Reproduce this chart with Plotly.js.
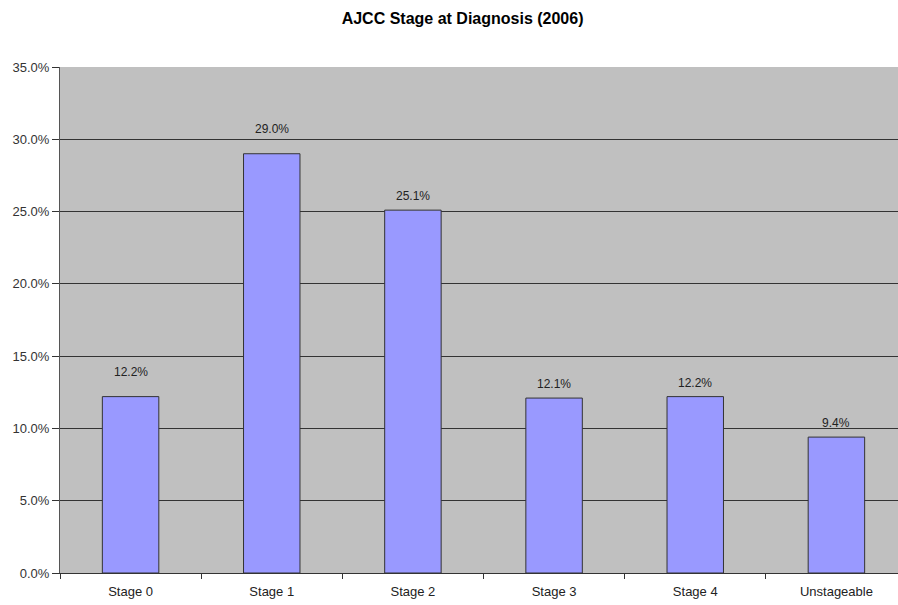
<!DOCTYPE html>
<html>
<head>
<meta charset="utf-8">
<script src="https://cdn.plot.ly/plotly-3.0.1.min.js"></script>
<style>html,body{margin:0;padding:0;background:#fff;overflow:hidden;}#chart{width:907px;height:605px;}</style>
</head>
<body>
<div id="chart"></div>
<script>
const categories = ["Stage 0", "Stage 1", "Stage 2", "Stage 3", "Stage 4", "Unstageable"];
const percentValues = [12.2, 29.0, 25.1, 12.1, 12.2, 9.4];
const yTickValues = [0, 5, 10, 15, 20, 25, 30, 35];
const yTickLabels = ["0.0%", "5.0%", "10.0%", "15.0%", "20.0%", "25.0%", "30.0%", "35.0%"];

const font = "Liberation Sans, Arial, sans-serif";

const trace = {
  type: "bar",
  x: categories,
  y: percentValues,
  width: 0.4,
  marker: { color: "#9999FF", line: { color: "#333333", width: 1 } },
  hoverinfo: "skip"
};

const annotations = categories.map((c, i) => ({
  x: c, y: percentValues[i], xref: "x", yref: "y",
  text: percentValues[i].toFixed(1) + "%",
  showarrow: false,
  yanchor: "bottom",
  yshift: (i < 2) ? 16 : 5,
  font: { family: font, size: 12, color: "#222222" }
}));

const layout = {
  width: 907, height: 605,
  margin: { l: 60, r: 0, t: 67, b: 32 },
  paper_bgcolor: "#ffffff",
  plot_bgcolor: "#C0C0C0",
  showlegend: false,
  title: { text: "<b>AJCC Stage at Diagnosis (2006)</b>", xref: "container", x: 0.51, xanchor: "center", y: 0.97, yanchor: "middle",
           font: { family: font, size: 16, color: "#000000" } },
  xaxis: {
    type: "category",
    tickson: "boundaries",
    ticks: "outside", ticklen: 5, tickcolor: "#333333",
    ticklabelstandoff: 6,
    showgrid: false,
    showline: true, linecolor: "#333333", linewidth: 1,
    tickfont: { family: font, size: 13, color: "#222222" },
    fixedrange: true
  },
  yaxis: {
    range: [0, 35],
    tickvals: yTickValues, ticktext: yTickLabels,
    ticks: "outside", ticklen: 7, tickcolor: "#333333",
    showgrid: true, gridcolor: "#333333", gridwidth: 1,
    showline: true, linecolor: "#555555", linewidth: 1,
    zeroline: false,
    tickfont: { family: font, size: 13, color: "#333333" },
    fixedrange: true
  },
  annotations: annotations
};

Plotly.newPlot("chart", [trace], layout, { displayModeBar: false, staticPlot: true });
</script>
</body>
</html>
